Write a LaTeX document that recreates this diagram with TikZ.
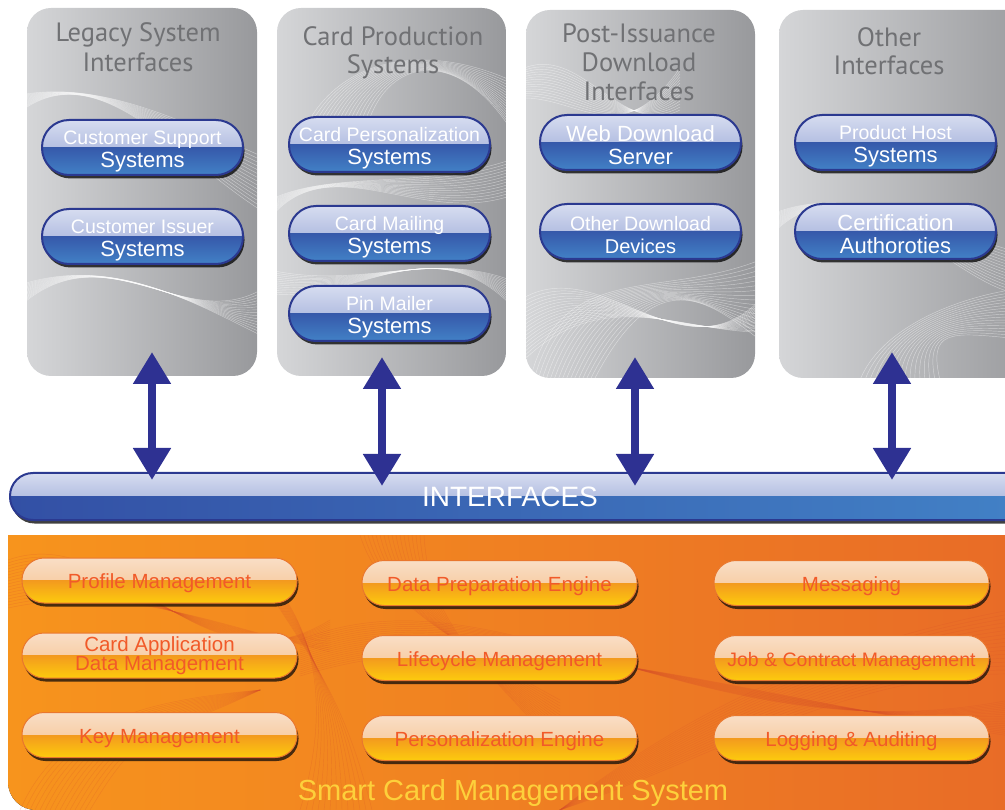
\documentclass[tikz,border=0pt]{standalone}
\usepackage{fontspec}
\setmainfont{Liberation Sans}
\newfontfamily\titlefont{PT Sans}
\usetikzlibrary{arrows.meta,shadows,calc}
\definecolor{navy}{HTML}{2E3192}
\definecolor{btnborder}{HTML}{2B3990}
\definecolor{btntopA}{HTML}{D6DCF0}
\definecolor{btntopB}{HTML}{93A3D4}
\definecolor{btnbotA}{HTML}{3659AA}
\definecolor{btnbotB}{HTML}{4281C6}
\definecolor{barbotA}{HTML}{3350A5}
\definecolor{pgL}{HTML}{D5D6D8}
\definecolor{pgR}{HTML}{98999C}
\definecolor{titlegray}{HTML}{707174}
\definecolor{orL}{HTML}{F7941D}
\definecolor{orR}{HTML}{E86B27}
\definecolor{obtopA}{HTML}{F9DEC6}
\definecolor{obtopB}{HTML}{F6C08A}
\definecolor{obbotA}{HTML}{F39A1E}
\definecolor{obbotB}{HTML}{FDCB0D}
\definecolor{obborder}{HTML}{E9772E}
\definecolor{obtext}{HTML}{F15A29}
\definecolor{smtext}{HTML}{FDD03B}
\definecolor{owave}{HTML}{D9502A}
\newcommand\twoline[2]{{\fontsize{19.5}{23}\selectfont\rule{0pt}{21pt}#1}\\{\fontsize{22}{23}\selectfont #2}}
\newcommand\oneline[1]{\rule{0pt}{21pt}#1}
\begin{document}
\begin{tikzpicture}[x=1pt,y=-1pt,
  panel/.style={rounded corners=24, left color=pgL, right color=pgR, draw=none, inner sep=0},
  ttl/.style={font=\titlefont\fontsize{26.5}{30}\selectfont, text=titlegray, anchor=base, inner sep=0},
  gwave/.style={draw=white, opacity=.45, line width=.45},
  owavestyle/.style={draw=owave, opacity=.25, line width=.45},
  bluebtn/.style={rounded corners=27, draw=btnborder, fill=btnbotA, line width=2, minimum width=201, minimum height=55,
    inner sep=0, text=white, align=center, font=\fontsize{20}{23}\selectfont,
    drop shadow={shadow xshift=1.5pt, shadow yshift=-3.5pt, opacity=.75, fill=black},
    path picture={
      \shade[sharp corners, top color=btntopA, bottom color=btntopB] (path picture bounding box.north west) rectangle (path picture bounding box.east);
      \shade[sharp corners, top color=btnbotA, bottom color=btnbotB] (path picture bounding box.west) rectangle (path picture bounding box.south east);
    }},
  orbtn/.style={rounded corners=22, draw=obborder, fill=obbotA, line width=1, minimum width=275, minimum height=45,
    inner sep=0, text=obtext, align=center, font=\fontsize{20.5}{19}\selectfont,
    drop shadow={shadow xshift=1.5pt, shadow yshift=-3.5pt, opacity=.8, fill=black!85!brown},
    path picture={
      \shade[sharp corners, top color=obtopA, bottom color=obtopB] (path picture bounding box.north west) rectangle (path picture bounding box.east);
      \shade[sharp corners, top color=obbotA, bottom color=obbotB] (path picture bounding box.west) rectangle (path picture bounding box.south east);
    }},
  dblarrow/.style={draw=navy, line width=8, {Triangle[width=36pt,length=32pt]}-{Triangle[width=36pt,length=32pt]}},
  ]
\useasboundingbox (0,0) rectangle (1005,810);

% ---------------- gray panels
\node[panel, minimum width=230, minimum height=368] (p1) at (142,192) {};
\node[panel, minimum width=229, minimum height=368] (p2) at (391.5,192) {};
\node[panel, minimum width=229, minimum height=368] (p3) at (640.5,194) {};
\node[panel, minimum width=261, minimum height=368] (p4) at (909.5,194) {};

% decorative waves
\begin{scope}
  \clip[rounded corners=24] (27,8) rectangle (257,376);
  \foreach \i in {0,...,14}{\draw[gwave] (20,95+\i*1.2) .. controls (100,80-\i*2) and (180,120+\i*3) .. (270,160+\i*4);}
  \foreach \i in {0,...,14}{\draw[gwave] (20,285+\i*1.5) .. controls (110,255-\i*2) and (190,300+\i*3) .. (270,340-\i*4);}
\end{scope}
\begin{scope}
  \clip[rounded corners=24] (277,8) rectangle (506,376);
  \foreach \i in {0,...,16}{\draw[gwave] (300+\i*4,140) .. controls (330+\i*3,60) and (420+\i*2,40) .. (510,80+\i*3);}
  \foreach \i in {0,...,12}{\draw[gwave] (270,200+\i*1.5) .. controls (330,170-\i*2) and (420,190+\i*3) .. (510,160+\i*3);}
  \foreach \i in {0,...,12}{\draw[gwave] (270,270+\i*2) .. controls (360,290+\i) and (430,250-\i*2) .. (510,280+\i*2);}
\end{scope}
\begin{scope}
  \clip[rounded corners=24] (526,10) rectangle (755,378);
  \foreach \i in {0,...,14}{\draw[gwave] (520,70+\i*2) .. controls (580,40+\i*4) and (620,140+\i) .. (680,110-\i*3);}
  \foreach \i in {0,...,16}{\draw[gwave] (530+\i*4,380) .. controls (560+\i*6,260) and (660+\i*3,300) .. (760,260+\i*5);}
  \foreach \i in {0,...,16}{\draw[gwave] (520,300+\i*4) .. controls (600,250+\i*2) and (680,380-\i*3) .. (760,300+\i*2);}
\end{scope}
\begin{scope}
  \clip[rounded corners=24] (779,10) rectangle (1040,378);
  \foreach \i in {0,...,14}{\draw[gwave] (770,215+\i*1.5) .. controls (850,180-\i*2) and (940,230+\i*3) .. (1010,250+\i*3);}
  \foreach \i in {0,...,16}{\draw[gwave] (860+\i*5,380) .. controls (880+\i*3,330) and (950,300+\i*2) .. (1010,290+\i*3);}
\end{scope}

% titles
\node[ttl] (t1a) at (138,42) {Legacy System};
\node[ttl] (t1b) at (138,72) {Interfaces};
\node[ttl] (t2a) at (393,46) {Card Production};
\node[ttl] (t2b) at (393,74) {Systems};
\node[ttl] (t3a) at (639,43) {Post-Issuance};
\node[ttl] (t3b) at (639,72) {Download};
\node[ttl] (t3c) at (639,101) {Interfaces};
\node[ttl] (t4a) at (889,47) {Other};
\node[ttl] (t4b) at (889,75) {Interfaces};

% blue buttons
\node[bluebtn] (b11) at (142.5,147.5) {\twoline{Customer Support}{Systems}};
\node[bluebtn] (b12) at (142.5,236.5) {\twoline{Customer Issuer}{Systems}};
\node[bluebtn] (b21) at (389.5,144.5) {\twoline{Card Personalization}{Systems}};
\node[bluebtn] (b22) at (389.5,233.5) {\twoline{Card Mailing}{Systems}};
\node[bluebtn] (b23) at (389.5,313.5) {\twoline{Pin Mailer}{Systems}};
\node[bluebtn] (b31) at (640.5,142.5) {\twoline{\fontsize{22}{23}\selectfont Web Download}{Server}};
\node[bluebtn] (b32) at (640.5,231.5) {\twoline{Other Download}{\fontsize{20}{23}\selectfont Devices}};
\node[bluebtn] (b41) at (895.5,142.5) {\twoline{Product Host}{Systems}};
\node[bluebtn] (b42) at (895.5,231.5) {\twoline{\fontsize{22}{23}\selectfont Certification}{Authoroties}};

% ---------------- orange panel
\fill[left color=orL, right color=orR] (1030,535) -- (8,535) [rounded corners=28] -- (8,810) -- (1030,810) [sharp corners] -- cycle;
\begin{scope}
  \clip (8,535) rectangle (1030,812);
  \foreach \i in {0,...,16}{\draw[owavestyle] (8,560+\i*3) .. controls (120,520+\i*4) and (200,700-\i*5) .. (330,620+\i*2);}
  \foreach \i in {0,...,16}{\draw[owavestyle] (360+\i*4,535) .. controls (380+\i*3,600) and (450,640) .. (560,700+\i*3);}
  \foreach \i in {0,...,18}{\draw[owavestyle] (300,640+\i*2) .. controls (500,560+\i*3) and (700,760-\i*4) .. (1010,700+\i*2);}
  \foreach \i in {0,...,16}{\draw[owavestyle] (560,810) .. controls (700,700+\i*4) and (850,640+\i*2) .. (1010,610+\i*4);}
  \foreach \i in {0,...,14}{\draw[owavestyle] (20+\i*5,810) .. controls (60+\i*6,720) and (150,700+\i*3) .. (260,690);}
  \foreach \i in {0,...,12}{\draw[owavestyle] (250,560) .. controls (300,600+\i*4) and (340,680) .. (300+\i*6,810);}
\end{scope}

\node[orbtn] (o11) at (159.5,580.5) {\oneline{Profile Management}};
\node[orbtn] (o12) at (159.5,655.5) {Card Application\\Data Management};
\node[orbtn] (o13) at (159.5,735) {\oneline{Key Management}};
\node[orbtn] (o21) at (499.5,583) {\oneline{Data Preparation Engine}};
\node[orbtn] (o22) at (499.5,658) {\oneline{Lifecycle Management}};
\node[orbtn] (o23) at (499.5,738) {\oneline{Personalization Engine}};
\node[orbtn] (o31) at (851.5,583) {\oneline{Messaging}};
\node[orbtn, font=\fontsize{19.5}{19}\selectfont] (o32) at (851.5,658) {\oneline{Job \& Contract Management}};
\node[orbtn] (o33) at (851.5,738) {\oneline{Logging \& Auditing}};

\node[text=smtext, font=\fontsize{29}{30}\selectfont, anchor=base, inner sep=0] (scms) at (513,800) {Smart Card Management System};

% ---------------- interfaces bar
\node[rounded corners=23, draw=btnborder, fill=barbotA, line width=2, minimum width=1020, minimum height=47, inner sep=0,
    drop shadow={shadow xshift=1.5pt, shadow yshift=-3.5pt, opacity=.75, fill=black},
    path picture={
      \shade[sharp corners, top color=btntopA, bottom color=btntopB] (path picture bounding box.north west) rectangle (path picture bounding box.east);
      \shade[sharp corners, left color=barbotA, right color=btnbotB] (path picture bounding box.west) rectangle (path picture bounding box.south east);
    }] (intf) at (520,496.5) {};
\node[text=white, font=\fontsize{28}{30}\selectfont, inner sep=0] (intflabel) at (510,497) {INTERFACES};

% ---------------- arrows
\coordinate (a1s) at (152,352); \coordinate (a1e) at (152,480);
\coordinate (a2s) at (382,357); \coordinate (a2e) at (382,486);
\coordinate (a3s) at (635,357); \coordinate (a3e) at (635,486);
\coordinate (a4s) at (892,352); \coordinate (a4e) at (892,480);
\draw[dblarrow] (a1s) -- (a1e);
\draw[dblarrow] (a2s) -- (a2e);
\draw[dblarrow] (a3s) -- (a3e);
\draw[dblarrow] (a4s) -- (a4e);
\end{tikzpicture}
\end{document}
